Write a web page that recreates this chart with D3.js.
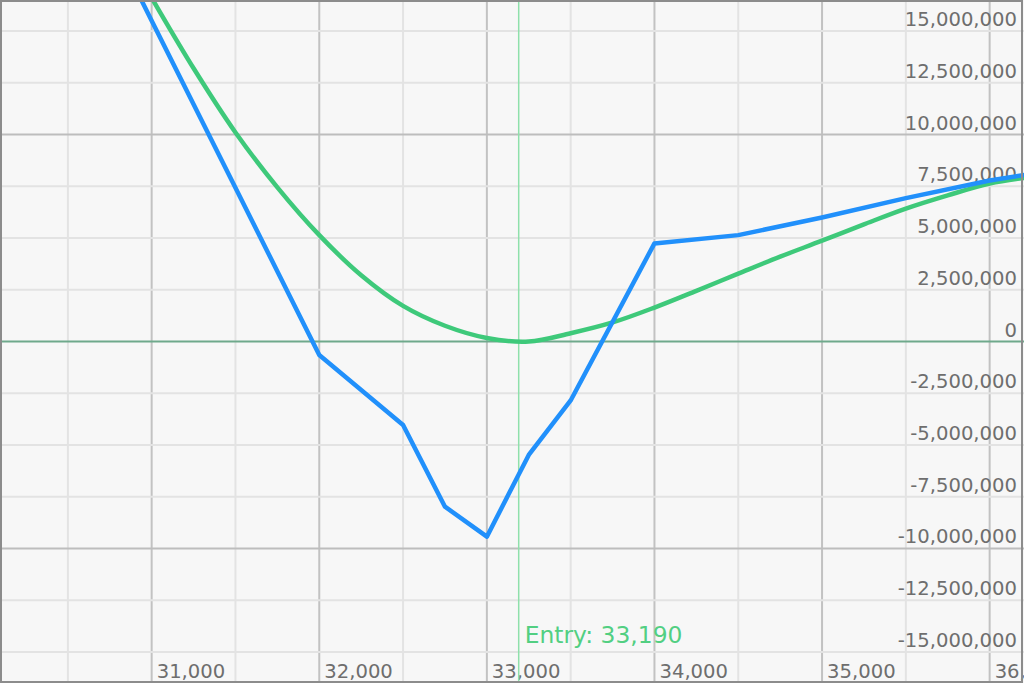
<!DOCTYPE html>
<html>
<head>
<meta charset="utf-8">
<script src="https://cdn.jsdelivr.net/npm/d3@7"></script>
<style>
  html, body { margin: 0; padding: 0; background: #f7f7f7; }
  svg { display: block; }
  text { font-family: "DejaVu Sans", Verdana, sans-serif; }
</style>
</head>
<body>
<svg id="chart" width="1024" height="683"></svg>
<script>
// ---- data ----
const expiryPrices = [30000, 31000, 32000, 32500, 32750, 33000, 33250, 33500, 34000, 34500, 35000, 35500, 36000, 36250];
const expiryPnL    = [31.7e6, 15.5e6, -0.65e6, -4.03e6, -7.98e6, -9.43e6, -5.48e6, -2.85e6, 4.74e6, 5.14e6, 5.99e6, 6.93e6, 7.78e6, 8.1e6];

const currentPrices = [30500, 30750, 31000, 31250, 31500, 31750, 32000, 32250, 32500, 32750, 33000, 33250, 33500, 33750, 34000, 34250, 34500, 34750, 35000, 35250, 35500, 35750, 36000, 36250];
const currentPnL    = [23.7e6, 20.1e6, 16.6e6, 13.2e6, 10.1e6, 7.45e6, 5.14e6, 3.2e6, 1.72e6, 0.76e6, 0.17e6, 0.0e6, 0.4e6, 0.92e6, 1.64e6, 2.45e6, 3.28e6, 4.1e6, 4.87e6, 5.66e6, 6.42e6, 7.06e6, 7.63e6, 7.95e6];

const entryPrice = 33190;
const entryLabel = "Entry: 33,190";

const xTickValues = [31000, 32000, 33000, 34000, 35000, 36000];
const xMinorValues = [30500, 31500, 32500, 33500, 34500, 35500];
const yTickValues = [-15e6, -12.5e6, -10e6, -7.5e6, -5e6, -2.5e6, 0, 2.5e6, 5e6, 7.5e6, 10e6, 12.5e6, 15e6];

// ---- layout ----
const W = 1024, H = 683;
const svg = d3.select("#chart");
const x = d3.scaleLinear().domain([30095, 36205]).range([0, W]);
const y = d3.scaleLinear().domain([-16.5e6, 16.5e6]).range([H, 0]);
const fmt = v => d3.format(",")(v).replace("\u2212", "-");

svg.append("rect").attr("width", W).attr("height", H).attr("fill", "#f7f7f7");

const defs = svg.append("defs");
defs.append("clipPath").attr("id", "clip").append("rect").attr("x", 0).attr("y", 0).attr("width", W).attr("height", H);

const grid = svg.append("g");
// minor vertical
grid.selectAll("line.xm").data(xMinorValues).join("line")
  .attr("x1", d => x(d)).attr("x2", d => x(d)).attr("y1", 0).attr("y2", H)
  .attr("stroke", "#e3e3e3").attr("stroke-width", 2);
// major vertical
grid.selectAll("line.xM").data(xTickValues).join("line")
  .attr("x1", d => x(d)).attr("x2", d => x(d)).attr("y1", 0).attr("y2", H)
  .attr("stroke", "#c2c2c2").attr("stroke-width", 2);
// horizontal
grid.selectAll("line.y").data(yTickValues.filter(d => d !== 0)).join("line")
  .attr("x1", 0).attr("x2", W).attr("y1", d => y(d)).attr("y2", d => y(d))
  .attr("stroke", d => (Math.abs(d) % 10e6 === 0) ? "#bdbdbd" : "#e3e3e3")
  .attr("stroke-width", 2);
// zero line
grid.append("line").attr("x1", 0).attr("x2", W).attr("y1", y(0)).attr("y2", y(0))
  .attr("stroke", "#6fa98c").attr("stroke-width", 2);

// axis labels
const labels = svg.append("g").attr("fill", "#6e6e6e").attr("font-size", 19.6);
labels.selectAll("text.y").data(yTickValues).join("text")
  .attr("x", 1017).attr("y", d => y(d) - 5)
  .attr("text-anchor", "end")
  .text(d => fmt(d));
labels.selectAll("text.x").data(xTickValues).join("text")
  .attr("x", d => x(d) + 5).attr("y", 678)
  .text(d => fmt(d));

// entry line
svg.append("line").attr("x1", x(entryPrice)).attr("x2", x(entryPrice)).attr("y1", 0).attr("y2", H)
  .attr("stroke", "#8fe0ab").attr("stroke-width", 1.5);
svg.append("text").attr("x", x(entryPrice) + 6).attr("y", 643)
  .attr("fill", "#52cf82").attr("font-size", 23.4).text(entryLabel);

const plot = svg.append("g").attr("clip-path", "url(#clip)");
const currentLine = d3.line().x((d, i) => x(currentPrices[i])).y(d => y(d)).curve(d3.curveCatmullRom);
plot.append("path").datum(currentPnL).attr("d", currentLine)
  .attr("fill", "none").attr("stroke", "#3ec97a").attr("stroke-width", 4.5).attr("stroke-linejoin", "round");

const expiryLine = d3.line().x((d, i) => x(expiryPrices[i])).y(d => y(d));
plot.append("path").datum(expiryPnL).attr("d", expiryLine)
  .attr("fill", "none").attr("stroke", "#2190fb").attr("stroke-width", 4.5).attr("stroke-linejoin", "round");

// frame
svg.append("rect").attr("x", 1).attr("y", 1).attr("width", W - 3).attr("height", H - 2)
  .attr("fill", "none").attr("stroke", "#8c8c8c").attr("stroke-width", 2);
</script>
</body>
</html>
